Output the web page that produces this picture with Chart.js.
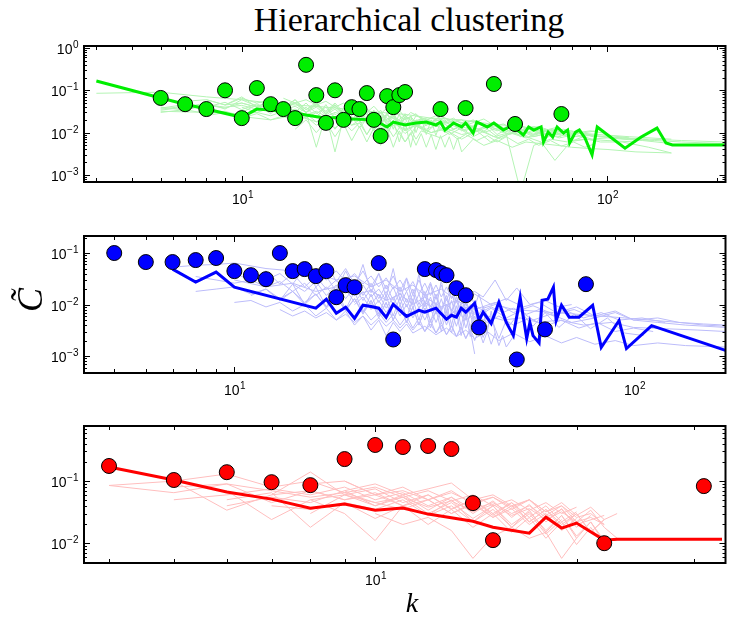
<!DOCTYPE html>
<html>
<head>
<meta charset="utf-8">
<script src="https://cdn.jsdelivr.net/npm/chart.js@4.4.0/dist/chart.umd.min.js"></script>
<style>
  body { margin: 0; background: #fff; }
  #wrap { position: relative; width: 734px; height: 622px; background: #fff; overflow: hidden; }
  canvas { position: absolute; left: 0; }
  .title { position: absolute; left: 409px; top: 3px; transform: translateX(-50%);
           font: 34px/34px "Liberation Serif", "Times New Roman", serif; white-space: nowrap; color: #000; }
  .ylab { position: absolute; left: 30px; top: 300px; transform: translate(-50%, -50%) rotate(-90deg);
          font: italic 36px/36px "Liberation Serif", serif; color: #000; }
  .xlab { position: absolute; left: 412px; top: 603px; transform: translate(-50%, -50%);
          font: italic 28px/28px "Liberation Serif", serif; color: #000; }
</style>
</head>
<body>
<div id="wrap">
  <div class="title">Hierarchical clustering</div>
  <canvas id="c1" width="734" height="210" style="top:0px"></canvas>
  <canvas id="c2" width="734" height="200" style="top:210px"></canvas>
  <canvas id="c3" width="734" height="212" style="top:410px"></canvas>
  <div class="ylab">C&#771;</div>
  <div class="xlab">k</div>
</div>
<script>
// ---- panel 1 (green) ----
var greenDotK = [6,7,8,9,10,11,12,13,14,15,16,17,18,19,20,21,22,23,24,25,26,27,28,35,41,49,56,75];
var greenDotC = [0.066,0.047,0.036,0.10,0.022,0.113,0.047,0.036,0.022,0.40,0.077,0.017,0.10,0.020,0.040,0.036,0.086,0.020,0.0083,0.073,0.040,0.077,0.091,0.036,0.038,0.141,0.016,0.0275];
var greenLineK = [4,6,7,8,10,11,12,13,14,15,17,19,20,23,25,26,28,30,32,34,35,36,38,40,41,43,44,47,49,52,54,56,59,61,63,66,67,69,71,73,76,78,79,82,84,87,91,94,112,124,137,145,151,210];
var greenLineC = [0.166,0.066,0.047,0.036,0.023,0.036,0.034,0.031,0.029,0.026,0.022,0.0234,0.021,0.020,0.0136,0.0178,0.0151,0.0169,0.0178,0.0151,0.0178,0.0115,0.0169,0.0136,0.0169,0.0098,0.0178,0.0136,0.0169,0.0115,0.0136,0.0128,0.0088,0.0136,0.0115,0.0136,0.0060,0.0103,0.0079,0.0136,0.0098,0.0115,0.0057,0.0103,0.0115,0.0075,0.0030,0.0136,0.0043,0.0079,0.0128,0.0057,0.0051,0.0051];
var greenRunK = [
  [4,5,6,8,10,12,14,17,20,24,28,33,40,48,57,68,80,95,115,150],
  [6,7,8,9,10,11,12,13,14,15,16,17,18,19,20,22,24,26,28,30,33,36,40,44,49,55,62,70,80,92],
  [6,7,8,9,10,11,12,13,14,15,16,17,18,19,20,21,22,23,24,25,27,29,31,34,37,41,45,50,56,63,71,80,90,105,125,150],
  [7,8,9,10,11,12,13,14,15,16,17,18,19,20,21,22,24,26,28,30,32,35,38,42,46,51,57,64,72,81,93],
  [6,8,10,11,12,13,14,15,16,17,18,19,20,21,22,23,24,26,28,30,33,36,40,44,48,53,58,63,70,78,88,100,120],
  [10,11,12,13,14,15,16,17,18,19,20,21,22,23,24,25,26,28,30,32,34,37,40,43,47,51,56,61,67,74,82,91,100,115,135,160,210],
  [9,10,11,12,13,14,15,16,17,18,19,20,21,22,23,24,25,26,27,28,29,30,32,34,36,39,42,45,49,54,60,67,75],
  [6,7,8,9,10,12,14,16,18,20,22,24,26,28,30,33,36,40,45,50,55,60,66,72,80,88,96,110,130,150],
  [12,13,14,15,16,17,18,19,20,21,22,23,24,25,26,27,28,30,32,34,36,38,41,44,47,50,54,58,63,68,74,81,89,98,110,130,160,210],
  [8,9,10,11,12,13,14,15,16,17,18,19,20,21,22,23,24,25,26,27,28,29,30,31,33,35,37,39,41,44,47,50,53,57,61,65,70,75,81,87,93],
  [13,14,15,16,17,18,19,20,21,22,23,24,25,26,27,28,29,30,32,34,36,38,40,43,46,49,52,56,60,65,70,76,83,90,100],
  [6,7,8,9,10,11,12,13,14,15,16,17,18,20,22,24,26,28,31,34,37,41,45,50,55,61,68,76,85,95,110,130],
  [6,7,8,9,10,11,12,13,14,15,16,17,18,19,20,21,22,23,24,25,26,27,28,29,30,32,34,36,38,40,43,46,50,54,58,63,68],
  [10,11,12,13,14,15,16,17,18,19,20,21,22,23,24,25,26,27,28,29,30,31,32,33,34,35,38,41,44,48,52,57,62,68,75,83,92,102,115],
  [8,9,10,11,12,13,14,15,16,17,18,19,20,21,22,23,24,25,26,27,28,29,30,33,36,39,43,47,52,57,63,70],
  [14,15,16,17,18,19,20,21,22,23,24,25,26,27,28,29,30,31,32,33,34,35,36,37,38,39,40,43,46,50,55,60,66,73,80,90,100,120,150]
];
var greenRunC = [
  [0.085,0.088,0.09,0.07,0.06,0.05,0.045,0.04,0.035,0.03,0.027,0.022,0.02,0.016,0.014,0.012,0.01,0.009,0.008,0.007],
  [0.034,0.04,0.05,0.036,0.06,0.042,0.055,0.038,0.05,0.03,0.045,0.028,0.04,0.024,0.035,0.02,0.03,0.016,0.026,0.014,0.022,0.017,0.02,0.012,0.016,0.01,0.013,0.0085,0.011,0.008],
  [0.038,0.046,0.04,0.052,0.035,0.048,0.032,0.044,0.03,0.05,0.028,0.04,0.022,0.034,0.026,0.038,0.02,0.03,0.015,0.026,0.018,0.024,0.013,0.02,0.016,0.011,0.017,0.012,0.014,0.009,0.012,0.008,0.0085,0.0075,0.0065,0.0055],
  [0.055,0.06,0.045,0.065,0.05,0.058,0.04,0.052,0.035,0.046,0.032,0.05,0.03,0.04,0.025,0.036,0.022,0.032,0.02,0.028,0.015,0.024,0.019,0.016,0.021,0.012,0.016,0.01,0.013,0.009,0.011],
  [0.032,0.03,0.028,0.03,0.025,0.032,0.022,0.028,0.018,0.025,0.012,0.022,0.015,0.02,0.009,0.018,0.012,0.015,0.006,0.014,0.01,0.012,0.007,0.011,0.006,0.009,0.0004,0.005,0.007,0.006,0.007,0.0065,0.006],
  [0.04,0.03,0.038,0.026,0.034,0.022,0.03,0.019,0.028,0.016,0.024,0.013,0.021,0.011,0.019,0.01,0.017,0.012,0.015,0.01,0.016,0.009,0.013,0.008,0.012,0.007,0.011,0.008,0.01,0.0075,0.009,0.007,0.0075,0.0068,0.0065,0.006,0.0055],
  [0.045,0.05,0.04,0.046,0.036,0.05,0.03,0.0045,0.026,0.0035,0.022,0.033,0.018,0.03,0.012,0.026,0.008,0.02,0.006,0.018,0.0045,0.016,0.012,0.015,0.01,0.013,0.009,0.012,0.008,0.01,0.0075,0.009,0.008],
  [0.03,0.035,0.028,0.032,0.024,0.02,0.026,0.018,0.022,0.015,0.019,0.013,0.017,0.011,0.015,0.01,0.013,0.009,0.011,0.0075,0.01,0.008,0.006,0.0022,0.0065,0.007,0.006,0.006,0.0045,0.0033],
  [0.05,0.04,0.06,0.035,0.052,0.03,0.046,0.028,0.04,0.024,0.036,0.02,0.03,0.016,0.028,0.014,0.024,0.018,0.022,0.014,0.02,0.012,0.017,0.011,0.015,0.009,0.013,0.008,0.012,0.0075,0.0105,0.0065,0.009,0.008,0.0075,0.007,0.0065,0.006],
  [0.025,0.03,0.022,0.028,0.02,0.025,0.017,0.024,0.015,0.02,0.013,0.018,0.011,0.017,0.009,0.016,0.01,0.014,0.008,0.013,0.0095,0.012,0.007,0.011,0.009,0.0075,0.01,0.007,0.009,0.0065,0.0085,0.006,0.008,0.0055,0.007,0.005,0.0065,0.0048,0.006,0.0045,0.0055],
  [0.065,0.05,0.06,0.045,0.055,0.04,0.05,0.036,0.046,0.03,0.042,0.028,0.038,0.024,0.034,0.022,0.03,0.026,0.02,0.025,0.018,0.022,0.016,0.02,0.014,0.018,0.013,0.016,0.012,0.014,0.011,0.012,0.01,0.011,0.0095],
  [0.036,0.042,0.046,0.04,0.044,0.036,0.04,0.03,0.036,0.026,0.032,0.024,0.03,0.022,0.027,0.018,0.024,0.016,0.021,0.015,0.018,0.013,0.016,0.011,0.014,0.01,0.012,0.0085,0.01,0.008,0.0075,0.0068],
  [0.04,0.034,0.045,0.038,0.05,0.04,0.046,0.034,0.042,0.03,0.04,0.026,0.036,0.022,0.032,0.02,0.03,0.018,0.026,0.015,0.024,0.013,0.022,0.012,0.02,0.015,0.018,0.013,0.016,0.011,0.014,0.01,0.013,0.009,0.011,0.008,0.0095],
  [0.03,0.045,0.028,0.05,0.025,0.04,0.022,0.046,0.02,0.038,0.018,0.04,0.016,0.034,0.014,0.03,0.012,0.028,0.011,0.025,0.01,0.022,0.009,0.02,0.0085,0.018,0.012,0.016,0.011,0.014,0.01,0.013,0.009,0.011,0.0085,0.01,0.008,0.0085,0.0075],
  [0.06,0.045,0.07,0.04,0.055,0.035,0.06,0.03,0.05,0.028,0.045,0.025,0.04,0.022,0.036,0.02,0.034,0.018,0.03,0.016,0.028,0.015,0.025,0.018,0.022,0.015,0.019,0.013,0.016,0.011,0.014,0.01],
  [0.012,0.02,0.01,0.018,0.008,0.016,0.0065,0.014,0.006,0.013,0.005,0.012,0.0045,0.011,0.006,0.01,0.005,0.0095,0.0045,0.009,0.004,0.0085,0.0045,0.008,0.004,0.0075,0.0035,0.007,0.005,0.0065,0.0045,0.006,0.0055,0.005,0.0045,0.0042,0.004,0.0035,0.0033]
];

// ---- panel 2 (blue) ----
var blueDotK = [5,6,7,8,9,10,11,12,13,14,15,16,17,18,19,20,23,25,30,32,33,34,36,38,41,51,60,76];
var blueDotC = [0.1,0.0668,0.0668,0.073,0.080,0.0446,0.0372,0.0311,0.1,0.0446,0.0488,0.0356,0.0446,0.0139,0.0238,0.0217,0.0638,0.0021,0.0488,0.0467,0.0408,0.0372,0.0208,0.0152,0.0036,0.00086,0.0033,0.0249];
var blueLineK = [7,8,9,10,16,17,18,19,20,21,22,23,24,25,27,29,30,32,34,35,36,37,38,40,41,42,44,46,48,50,52,54,55,56,58,59,61,63,64,66,69,73,79,83,92,96,111,170];
var blueLineC = [0.0488,0.0272,0.0427,0.0217,0.0085,0.0127,0.0068,0.0089,0.0054,0.0097,0.0092,0.0085,0.00565,0.0101,0.0059,0.0077,0.0071,0.0085,0.0052,0.0062,0.0057,0.0085,0.0071,0.0106,0.0049,0.0071,0.0043,0.0111,0.0045,0.0025,0.0139,0.0022,0.0045,0.0025,0.0018,0.0121,0.0127,0.0217,0.0049,0.0097,0.0057,0.0057,0.0097,0.00147,0.0049,0.0014,0.0039,0.00129];
var blueRunK = [
  [7,8,9,10,12,14,16,18,20,22,24,26,28,30,33,36,40,44,48,53,58,64,72,80,90,100,115,130,150,170],
  [8,9,10,11,12,13,14,15,16,17,18,19,20,21,22,23,24,25,26,27,28,30,32,34,36,38,41,44,48,52,56,62,70,80],
  [8,9,10,11,12,13,14,15,16,17,18,19,20,21,22,23,24,25,26,27,28,29,30,31,32,34,36,38,40,43,46,50,55,60,66,73,81,90,100,112],
  [10,11,12,13,14,15,16,17,18,19,20,21,22,23,24,25,26,27,28,30,32,34,36,38,40,43,46,50,55,60,66,72,80,90,100,115,135,170],
  [12,13,14,15,16,17,18,19,20,21,22,23,24,25,26,27,28,29,30,31,32,33,34,35,36,37,38,40],
  [11,12,13,14,15,16,17,18,19,20,21,22,23,24,25,26,27,28,29,30,31,32,33,34,35,36,37,38,39,40,42,44,46,48],
  [14,15,16,17,18,19,20,21,22,23,24,25,26,27,28,29,30,31,32,33,34,35,36,37,38,39,40,42,44,47,50,54,58,63,68,75,83,92,105,120],
  [16,17,18,19,20,21,22,23,24,25,26,27,28,29,30,31,32,33,34,35,36,38,40,42,45,48,51,55,60,65,70],
  [20,21,22,23,24,25,26,27,28,29,30,31,32,33,34,35,36,37,38,39,40,41,42,43,44,45,46,47,48,50],
  [18,19,20,21,22,23,24,25,26,27,28,29,30,31,32,33,34,35,36,37,38,39,40,42,44,46,49,52,56,60,65,71,78,86,95,106],
  [13,14,15,16,17,18,19,20,21,22,23,24,25,26,27,28,29,30,31,32,33,34,35,36,37,38,39,40],
  [10,12,14,16,18,20,22,24,26,28,30,33,36,40,45,50,56,63,71,80,90,100,115,135,170],
  [10,11,12,13,14,15,16,17,18,19,20,21,22,23,24,25,26,27,28,29,30,31,32,33,34,35,36,37,38,39,40],
  [12,13,14,15,16,17,18,19,20,21,22,23,24,25,26,27,28,29,30,31,32,33,34,35,36,37,38,39,40,41,42,43,44,45],
  [15,16,17,18,19,20,21,22,23,24,25,26,27,28,29,30,31,32,33,34,35,36,37,38,39,40,41,42,45,50,56,63,72,82,95,110,130,150,170],
  [20,21,22,23,24,25,26,27,28,29,30,31,32,33,34,35,36,37,38,39,40,43,47,52,58,65,75,88,100,120,145,170]
];
var blueRunC = [
  [0.053,0.058,0.06,0.064,0.05,0.045,0.041,0.03,0.036,0.022,0.03,0.018,0.024,0.015,0.02,0.012,0.016,0.01,0.013,0.009,0.011,0.007,0.009,0.006,0.0075,0.005,0.0055,0.0045,0.0042,0.004],
  [0.035,0.03,0.026,0.03,0.022,0.028,0.018,0.026,0.015,0.022,0.013,0.02,0.011,0.018,0.01,0.016,0.0085,0.014,0.0075,0.013,0.0065,0.011,0.008,0.01,0.0065,0.009,0.006,0.0085,0.0055,0.0075,0.005,0.0065,0.0045,0.0055],
  [0.018,0.02,0.022,0.016,0.02,0.013,0.018,0.011,0.016,0.009,0.014,0.008,0.013,0.007,0.012,0.006,0.011,0.005,0.01,0.0045,0.009,0.004,0.0085,0.005,0.007,0.006,0.0075,0.005,0.0065,0.0045,0.006,0.004,0.0055,0.0038,0.005,0.0035,0.0045,0.003,0.0035,0.003],
  [0.011,0.012,0.009,0.011,0.0075,0.01,0.006,0.0085,0.005,0.0075,0.004,0.006,0.0032,0.005,0.0025,0.0045,0.003,0.0042,0.0028,0.0038,0.0026,0.0035,0.0024,0.0032,0.0022,0.003,0.002,0.0028,0.0019,0.0025,0.0018,0.0023,0.0017,0.002,0.0016,0.0018,0.0016,0.0015],
  [0.03,0.04,0.025,0.05,0.022,0.035,0.018,0.045,0.02,0.06,0.017,0.04,0.014,0.05,0.012,0.032,0.01,0.04,0.009,0.025,0.008,0.03,0.007,0.02,0.0065,0.018,0.006,0.012],
  [0.015,0.02,0.012,0.018,0.01,0.016,0.0085,0.014,0.0075,0.013,0.0065,0.012,0.0055,0.011,0.005,0.01,0.0045,0.009,0.004,0.0085,0.0035,0.008,0.003,0.0075,0.0028,0.007,0.0025,0.0065,0.0024,0.006,0.0023,0.0055,0.0022,0.005],
  [0.025,0.018,0.028,0.015,0.024,0.013,0.022,0.012,0.02,0.011,0.018,0.01,0.017,0.009,0.016,0.0085,0.015,0.008,0.014,0.0075,0.013,0.007,0.012,0.0065,0.011,0.006,0.01,0.0075,0.009,0.007,0.0085,0.0065,0.008,0.006,0.0075,0.0055,0.007,0.005,0.0055,0.0045],
  [0.04,0.03,0.045,0.028,0.04,0.025,0.036,0.022,0.033,0.02,0.03,0.018,0.028,0.016,0.026,0.015,0.024,0.014,0.022,0.013,0.02,0.016,0.018,0.014,0.03,0.012,0.021,0.01,0.012,0.009,0.01],
  [0.006,0.008,0.005,0.007,0.0045,0.0065,0.004,0.006,0.0035,0.0055,0.003,0.005,0.0028,0.0045,0.0026,0.004,0.0024,0.0038,0.0022,0.0035,0.002,0.0032,0.0018,0.003,0.0017,0.0028,0.0016,0.0025,0.0015,0.0024],
  [0.02,0.026,0.016,0.024,0.014,0.02,0.012,0.022,0.01,0.018,0.0085,0.016,0.0075,0.014,0.0065,0.013,0.006,0.012,0.0055,0.011,0.005,0.01,0.0045,0.009,0.0042,0.0085,0.004,0.0075,0.0038,0.007,0.0036,0.0065,0.0034,0.0055,0.0028,0.0025],
  [0.008,0.006,0.0075,0.0055,0.007,0.005,0.0065,0.0045,0.006,0.004,0.0055,0.0038,0.005,0.0035,0.0048,0.0032,0.0045,0.003,0.0042,0.0028,0.004,0.0026,0.0038,0.0024,0.0035,0.0022,0.0032,0.0011],
  [0.03,0.022,0.026,0.018,0.022,0.015,0.019,0.012,0.016,0.01,0.014,0.009,0.012,0.008,0.011,0.007,0.0095,0.0065,0.008,0.0055,0.007,0.005,0.0045,0.004,0.0036],
  [0.04,0.03,0.045,0.025,0.04,0.022,0.035,0.02,0.03,0.017,0.028,0.015,0.026,0.013,0.024,0.012,0.022,0.011,0.02,0.01,0.018,0.009,0.016,0.008,0.015,0.0075,0.014,0.007,0.013,0.0065,0.012],
  [0.02,0.012,0.025,0.01,0.022,0.009,0.02,0.008,0.018,0.007,0.016,0.0065,0.015,0.006,0.014,0.0055,0.013,0.005,0.012,0.0045,0.011,0.0042,0.01,0.004,0.0095,0.0038,0.009,0.0035,0.0085,0.0033,0.008,0.003,0.0075,0.0028],
  [0.05,0.03,0.065,0.028,0.05,0.025,0.045,0.022,0.04,0.02,0.036,0.018,0.033,0.016,0.03,0.015,0.027,0.013,0.024,0.012,0.022,0.011,0.02,0.01,0.018,0.009,0.016,0.0085,0.01,0.008,0.0075,0.007,0.0065,0.006,0.0055,0.005,0.0045,0.004,0.0038],
  [0.01,0.014,0.008,0.012,0.007,0.011,0.006,0.01,0.0055,0.009,0.005,0.0085,0.0045,0.008,0.004,0.0075,0.0038,0.007,0.0035,0.0065,0.0032,0.006,0.005,0.0055,0.0045,0.005,0.004,0.0045,0.0036,0.0034,0.0032,0.003]
];

// ---- panel 3 (red) ----
var redDotK = [4,5,6,7,8,9,10,11,12,13,14,15,22,31];
var redDotC = [0.175,0.104,0.139,0.096,0.086,0.226,0.381,0.353,0.367,0.328,0.0442,0.0112,0.0100,0.083];
var redLineK = [4,5,6,7,8,9,10,11,12,14,15,17,18,19,20,22,23,33];
var redLineC = [0.168,0.104,0.0665,0.0512,0.0367,0.0426,0.034,0.0367,0.0294,0.0226,0.0181,0.0145,0.0262,0.0175,0.0211,0.0112,0.0116,0.0116];
var redRunK = [
  [4,5,6,7,8,9,10,11,12,13,14,15,16,17,18,19,20],
  [5,6,7,8,9,10,11,12,13,14,15,16,17,18,19,20,22],
  [5,6,7,8,9,10,11,12,13,14,15,16,17,18,19,20],
  [6,7,8,9,10,11,12,13,14,15,16,17,18,19,20,21,22],
  [6,7,8,9,10,11,12,13,14,15,16,17,18,19],
  [7,8,9,10,11,12,13,14,15,16,17,18,19,20,21,22],
  [8,9,10,11,12,13,14,15,16,17,18,19,20,21,22,23],
  [7,8,9,10,11,12,13,14,15,16,17,18,19,20,21,22],
  [8,9,10,11,12,13,14,15,16,17,18,19,20,21,22],
  [9,10,11,12,13,14,15,16,17,18,19,20,21,22],
  [10,11,12,13,14,15,16,17,18,19,20],
  [5,6,7,8,9,10,11,12,13,14,15,16,17,18,19,20,21,22],
  [4,5,6,7,8,9,10,11,12,13,14,15,16,17,18,19,20],
  [6,7,8,9,10,11,12,13,14,15,16,17,18,19,20,21],
  [8,9,10,11,12,13,14,15,16,17,18,19,20,21,22],
  [9,10,11,12,13,14,15,16,17,18,19,20,21,22,23]
];
var redRunC = [
  [0.085,0.1,0.13,0.08,0.1,0.065,0.08,0.055,0.07,0.048,0.06,0.04,0.05,0.034,0.045,0.03,0.038],
  [0.05,0.06,0.075,0.06,0.08,0.05,0.065,0.04,0.055,0.035,0.045,0.03,0.04,0.026,0.035,0.02,0.028],
  [0.1,0.034,0.06,0.07,0.05,0.06,0.04,0.05,0.03,0.042,0.026,0.036,0.02,0.03,0.016,0.025],
  [0.07,0.024,0.05,0.06,0.04,0.055,0.03,0.045,0.025,0.04,0.02,0.032,0.016,0.028,0.013,0.022,0.011],
  [0.05,0.065,0.018,0.045,0.035,0.05,0.028,0.04,0.022,0.035,0.018,0.03,0.014,0.024],
  [0.06,0.14,0.06,0.075,0.045,0.06,0.035,0.05,0.028,0.045,0.022,0.035,0.02,0.03,0.015,0.024],
  [0.09,0.1,0.06,0.08,0.05,0.07,0.042,0.055,0.035,0.05,0.028,0.04,0.022,0.034,0.018,0.012],
  [0.04,0.035,0.045,0.025,0.04,0.02,0.035,0.018,0.03,0.015,0.026,0.012,0.022,0.0095,0.018,0.009],
  [0.05,0.03,0.011,0.04,0.028,0.05,0.022,0.04,0.018,0.034,0.015,0.028,0.012,0.022,0.01],
  [0.07,0.09,0.06,0.075,0.093,0.05,0.06,0.04,0.05,0.032,0.04,0.026,0.03,0.02],
  [0.03,0.02,0.026,0.016,0.0057,0.013,0.018,0.012,0.015,0.0057,0.012],
  [0.08,0.09,0.07,0.055,0.065,0.045,0.055,0.038,0.048,0.032,0.042,0.028,0.036,0.024,0.032,0.022,0.026,0.02],
  [0.085,0.065,0.09,0.045,0.07,0.05,0.065,0.04,0.06,0.036,0.05,0.03,0.045,0.026,0.04,0.022,0.032],
  [0.04,0.055,0.045,0.07,0.04,0.06,0.034,0.055,0.03,0.048,0.026,0.042,0.022,0.036,0.018,0.028],
  [0.03,0.06,0.045,0.035,0.05,0.03,0.045,0.026,0.04,0.022,0.035,0.018,0.03,0.015,0.024],
  [0.1,0.06,0.07,0.05,0.065,0.045,0.055,0.038,0.05,0.032,0.045,0.028,0.038,0.024,0.03]
];

var tickFont = '"Liberation Sans", Arial, sans-serif';

function pairs(ks, cs) {
    return ks.map(function(k, i) { return {x: k, y: cs[i]}; });
}

// all m*10^e values (m = 1..9) inside [lo, hi]
function logTicks(lo, hi) {
    var out = [];
    for (var e = Math.floor(Math.log10(lo)); e <= Math.ceil(Math.log10(hi)); e++) {
        for (var m = 1; m <= 9; m++) {
            var v = m * Math.pow(10, e);
            if (v >= lo * 0.9999 && v <= hi * 1.0001) out.push({v: v, e: e, major: m === 1});
        }
    }
    return out;
}

// "10" with a raised exponent
function drawPower(ctx, exp, x, y, align) {
    var sup = String(exp).replace('-', '\u2212');
    ctx.font = '14px ' + tickFont;
    var wb = ctx.measureText('10').width;
    ctx.font = '10px ' + tickFont;
    var ws = ctx.measureText(sup).width;
    var left = align === 'right' ? x - wb - ws : x - (wb + ws) / 2;
    ctx.textAlign = 'left';
    ctx.textBaseline = 'alphabetic';
    ctx.font = '14px ' + tickFont;
    ctx.fillText('10', left, y);
    ctx.font = '10px ' + tickFont;
    ctx.fillText(sup, left + wb + 0.5, y - 6);
}

function seg(ctx, x1, y1, x2, y2) {
    ctx.beginPath();
    ctx.moveTo(x1, y1);
    ctx.lineTo(x2, y2);
    ctx.stroke();
}

// matlab style box with inward ticks
var boxPlugin = {
    id: 'boxPlugin',
    afterDatasetsDraw: function(chart) {
        var ctx = chart.ctx, a = chart.chartArea;
        var xs = chart.scales.x, ys = chart.scales.y;
        ctx.save();
        ctx.strokeStyle = '#000';
        ctx.fillStyle = '#000';
        ctx.lineWidth = 1;
        logTicks(xs.min, xs.max).forEach(function(t) {
            var px = Math.round(xs.getPixelForValue(t.v)) + 0.5;
            var len = t.major ? 6 : 4;
            seg(ctx, px, a.bottom, px, a.bottom - len);
            seg(ctx, px, a.top, px, a.top + len);
            if (t.major) drawPower(ctx, t.e, px, a.bottom + 22, 'center');
        });
        logTicks(ys.min, ys.max).forEach(function(t) {
            var py = Math.round(ys.getPixelForValue(t.v)) + 0.5;
            var len = t.major ? 6 : 3;
            seg(ctx, a.left, py, a.left + len, py);
            seg(ctx, a.right, py, a.right - len, py);
            if (t.major) drawPower(ctx, t.e, a.left - 6, py + 5, 'right');
        });
        ctx.lineWidth = 2;
        ctx.strokeRect(a.left, a.top, a.right - a.left, a.bottom - a.top);
        ctx.restore();
    }
};

function makePanel(id, p) {
    var datasets = [];
    datasets.push({
        data: pairs(p.dotK, p.dotC), showLine: false, order: 0,
        pointRadius: 7.5, pointBackgroundColor: p.color,
        pointBorderColor: '#000', pointBorderWidth: 1
    });
    datasets.push({
        data: pairs(p.lineK, p.lineC), showLine: true, order: 1,
        borderColor: p.color, borderWidth: 3, pointRadius: 0, fill: false
    });
    p.runK.forEach(function(ks, i) {
        datasets.push({
            data: pairs(ks, p.runC[i]), showLine: true, order: 2,
            borderColor: p.pale, borderWidth: 1, pointRadius: 0, fill: false
        });
    });

    new Chart(document.getElementById(id), {
        type: 'scatter',
        data: {datasets: datasets},
        options: {
            responsive: false,
            animation: false,
            events: [],
            layout: {padding: {left: 84, right: 2, top: p.top, bottom: p.bottom}},
            plugins: {legend: {display: false}, tooltip: {enabled: false}},
            scales: {
                x: {type: 'logarithmic', min: p.xMin, max: p.xMax, display: false},
                y: {type: 'logarithmic', min: p.yMin, max: p.yMax, display: false}
            }
        },
        plugins: [boxPlugin]
    });
}

makePanel('c1', {
    xMin: 3.7, xMax: 211, yMin: 0.00068, yMax: 1.115, top: 46, bottom: 28,
    color: '#00ee00', pale: 'rgb(180,244,180)',
    dotK: greenDotK, dotC: greenDotC, lineK: greenLineK, lineC: greenLineC,
    runK: greenRunK, runC: greenRunC
});
makePanel('c2', {
    xMin: 4.2, xMax: 170, yMin: 0.00047, yMax: 0.214, top: 26, bottom: 37,
    color: '#0000ff', pale: 'rgb(188,188,250)',
    dotK: blueDotK, dotC: blueDotC, lineK: blueLineK, lineC: blueLineC,
    runK: blueRunK, runC: blueRunC
});
makePanel('c3', {
    xMin: 3.67, xMax: 33.4, yMin: 0.0048, yMax: 0.77, top: 16, bottom: 59,
    color: '#ff0000', pale: 'rgb(255,190,190)',
    dotK: redDotK, dotC: redDotC, lineK: redLineK, lineC: redLineC,
    runK: redRunK, runC: redRunC
});
</script>
</body>
</html>
